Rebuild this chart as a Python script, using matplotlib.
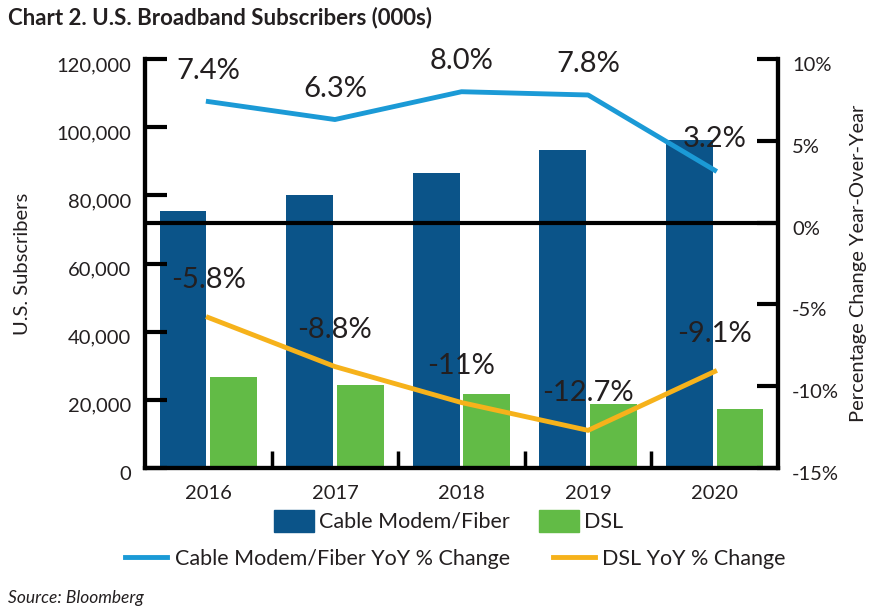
import matplotlib.pyplot as plt
from matplotlib.patches import Patch
from matplotlib.lines import Line2D
from matplotlib.transforms import ScaledTranslation

plt.rcParams['font.family'] = ['Lato', 'DejaVu Sans']

years = ['2016', '2017', '2018', '2019', '2020']
cable_subs = [75400, 80100, 86500, 93300, 96200]
dsl_subs = [26800, 24400, 21700, 18800, 17300]
cable_yoy = [7.4, 6.3, 8.0, 7.8, 3.2]
dsl_yoy = [-5.8, -8.8, -11.0, -12.7, -9.1]
cable_labels = ['7.4%', '6.3%', '8.0%', '7.8%', '3.2%']
dsl_labels = ['-5.8%', '-8.8%', '-11%', '-12.7%', '-9.1%']

c_cable = '#0b5489'
c_dsl = '#62bb46'
c_cable_line = '#1b9ad6'
c_dsl_line = '#f6b21b'
txt = '#231f20'

fig = plt.figure(figsize=(8.83, 6.12), dpi=100)
ax = fig.add_axes([145/883, 1-468/612, (778-145)/883, (468-59)/612])
ax2 = ax.twinx()

x = range(len(years))
ax.bar([i - 0.2 for i in x], cable_subs, width=0.37, color=c_cable)
ax.bar([i + 0.2 for i in x], dsl_subs, width=0.37, color=c_dsl)
ax.set_xlim(-0.5, 4.5)
ax.set_ylim(0, 120000)
ax.set_yticks(range(0, 120001, 20000))
ax.set_yticklabels([f'{v:,}' for v in range(0, 120001, 20000)])
ax.set_xticks(list(x))
ax.set_xticklabels(years)
ax.set_xticks([0.5, 1.5, 2.5, 3.5], minor=True)
ax.tick_params(axis='x', which='major', length=0, pad=12, labelsize=14.5, labelcolor=txt)
ax.tick_params(axis='x', which='minor', direction='in', length=12, width=2.5)
ax.tick_params(axis='y', direction='in', length=16, width=3, pad=10, labelsize=14.5, labelcolor=txt)
ax.set_ylabel('U.S. Subscribers', fontsize=14.5, color=txt, labelpad=18)

ax2.axhline(0, color='black', lw=3)
ax2.plot(list(x), cable_yoy, color=c_cable_line, lw=3.5)
ax2.plot(list(x), dsl_yoy, color=c_dsl_line, lw=3.5)
for i, (v, s) in enumerate(zip(cable_yoy, cable_labels)):
    ax2.annotate(s, (i, v), xytext=(0, 18), textcoords='offset pixels',
                 ha='center', va='bottom', fontsize=21, color=txt)
for i, (v, s) in enumerate(zip(dsl_yoy, dsl_labels)):
    ax2.annotate(s, (i, v), xytext=(0, 24), textcoords='offset pixels',
                 ha='center', va='bottom', fontsize=21, color=txt)
ax2.set_ylim(-15, 10)
ax2.set_yticks([-15, -10, -5, 0, 5, 10])
ax2.set_yticklabels(['-15%', '-10%', '-5%', '0%', '5%', '10%'])
ax2.tick_params(axis='y', direction='in', length=15, width=3, pad=10, labelsize=14.5, labelcolor=txt)
ax2.set_ylabel('Percentage Change Year-Over-Year', fontsize=14.5, color=txt, labelpad=8)

# tick labels sit a little below their ticks in the original
shift = ScaledTranslation(0, -5/100, fig.dpi_scale_trans)
for lab in ax.get_yticklabels() + ax2.get_yticklabels():
    lab.set_transform(lab.get_transform() + shift)

for a in (ax, ax2):
    a.spines['top'].set_visible(False)
    for s in ('left', 'right', 'bottom'):
        a.spines[s].set_linewidth(3)

h1 = [Patch(color=c_cable), Patch(color=c_dsl)]
fig.legend(h1, ['Cable Modem/Fiber', 'DSL'], loc='center', bbox_to_anchor=(0.508, 0.149),
           ncol=2, frameon=False, fontsize=15.5, handlelength=1.85, handleheight=1.2,
           handletextpad=0.25, columnspacing=1.35, labelcolor=txt)
h2 = [Line2D([], [], color=c_cable_line, lw=3.5), Line2D([], [], color=c_dsl_line, lw=3.5)]
fig.legend(h2, ['Cable Modem/Fiber YoY % Change', 'DSL YoY % Change'], loc='center',
           bbox_to_anchor=(0.516, 0.087), ncol=2, frameon=False, fontsize=15.5,
           handlelength=1.95, handletextpad=0.35, columnspacing=2.0, labelcolor=txt)

fig.text(8/883, 1-18/612, 'Chart 2. U.S. Broadband Subscribers (000s)', fontsize=16,
         fontweight='bold', color=txt, va='center')
fig.text(8/883, 1-598/612, 'Source: Bloomberg', fontsize=12.5, style='italic',
         color=txt, va='center')

fig.savefig('out.png', dpi=100)
